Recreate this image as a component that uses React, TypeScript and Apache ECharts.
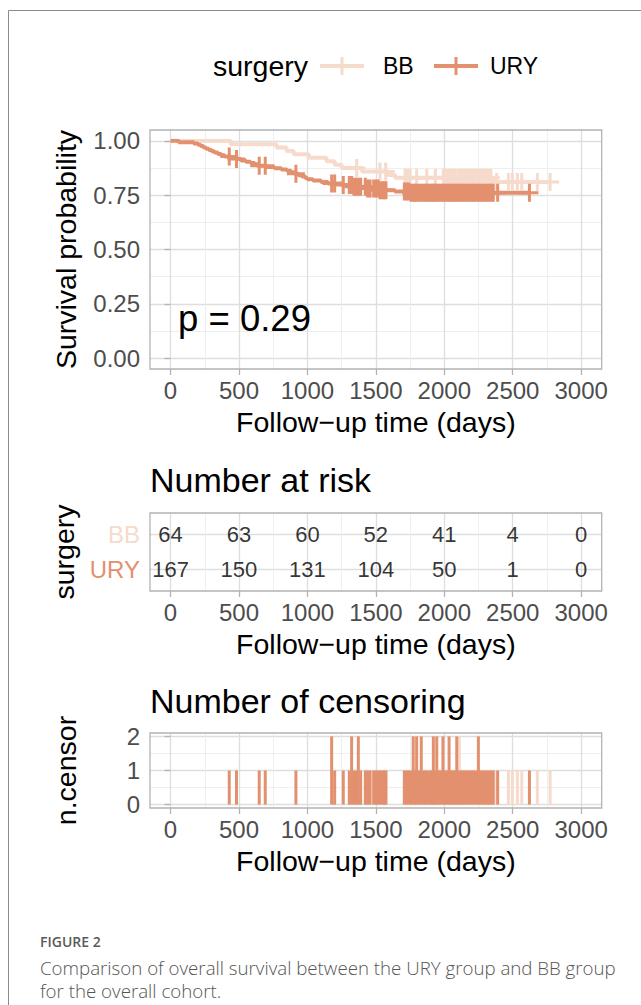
import { useEffect, useRef } from "react";
import * as echarts from "echarts";

// ---------- data ----------
const groups = ["BB", "URY"];
const timeTicks = [0, 500, 1000, 1500, 2000, 2500, 3000];
const riskBB = [64, 63, 60, 52, 41, 4, 0];
const riskURY = [167, 150, 131, 104, 50, 1, 0];
const pValueText = "p = 0.29";

// Kaplan-Meier steps (time in days, survival probability after the drop)
const uryStepTimes = [0, 60, 170, 200, 220, 240, 260, 280, 300, 320, 345, 370, 395, 440, 480, 515, 550, 585, 615, 640, 700, 760, 810, 850, 880, 905, 935, 960, 985, 1000, 1040, 1100, 1150, 1260, 1340, 1430, 1520, 1640, 1750];
const urySurv = [1.0, 0.994, 0.988, 0.982, 0.976, 0.97, 0.964, 0.958, 0.952, 0.946, 0.94, 0.934, 0.928, 0.922, 0.916, 0.91, 0.904, 0.898, 0.892, 0.886, 0.88, 0.874, 0.868, 0.862, 0.855, 0.849, 0.842, 0.836, 0.829, 0.823, 0.817, 0.811, 0.804, 0.797, 0.789, 0.781, 0.773, 0.767, 0.761];
const bbStepTimes = [0, 440, 775, 848, 900, 1010, 1140, 1200, 1250, 1400, 1590, 1640, 2360];
const bbSurv = [1.0, 0.984, 0.969, 0.953, 0.938, 0.922, 0.906, 0.89, 0.875, 0.859, 0.843, 0.83, 0.811];

// censoring times and counts
const uryCensorTimes = [429, 482, 648, 692, 916, 1177, 1199, 1262, 1306, 1323, 1340, 1356, 1372, 1389, 1423, 1440, 1458, 1484, 1500, 1516, 1530, 1548, 1562, 1574, 1708, 1724, 1740, 1756, 1773, 1786, 1798, 1814, 1832, 1848, 1864, 1880, 1896, 1910, 1920, 1932, 1945, 1960, 1975, 1990, 2004, 2020, 2035, 2050, 2064, 2078, 2091, 2106, 2120, 2135, 2150, 2166, 2182, 2198, 2214, 2230, 2249, 2264, 2280, 2296, 2312, 2328, 2344, 2358, 2390, 2622];
const uryCensorN = [1, 1, 1, 1, 1, 2, 1, 1, 1, 2, 1, 1, 2, 1, 1, 1, 1, 1, 1, 1, 1, 1, 1, 1, 1, 1, 1, 1, 2, 1, 2, 1, 2, 1, 1, 1, 1, 1, 2, 1, 2, 1, 1, 2, 1, 1, 2, 1, 1, 1, 2, 1, 1, 1, 1, 1, 1, 1, 1, 1, 2, 1, 1, 1, 1, 1, 1, 1, 1, 1];
const bbCensorTimes = [1360, 1530, 1572, 1713, 1730, 1750, 1798, 1872, 1935, 1993, 2010, 2028, 2042, 2058, 2072, 2088, 2110, 2126, 2140, 2155, 2172, 2188, 2204, 2220, 2236, 2252, 2270, 2288, 2305, 2322, 2340, 2383, 2468, 2497, 2534, 2566, 2680, 2773];
const bbCensorN = [1, 1, 1, 1, 1, 1, 1, 1, 1, 1, 1, 1, 1, 1, 1, 1, 2, 1, 1, 1, 1, 1, 1, 1, 1, 1, 1, 1, 1, 1, 1, 1, 1, 1, 1, 1, 1, 1];

// ---------- style ----------
const BB_COLOR = "#F6DACB";
const URY_COLOR = "#E3906F";
const FONT = "'Liberation Sans', Arial, Helvetica, sans-serif";
const CAPTION_FONT = "'Open Sans', sans-serif";
const X_TITLE = "Follow\u2212up time (days)";

const PL = 150;
const PR = 601.7;
const XMIN = -150;
const XMAX = 3150;
const PW = PR - PL;
const innerL = PL + ((0 - XMIN) / (XMAX - XMIN)) * PW;
const innerR = PL + ((3000 - XMIN) / (XMAX - XMIN)) * PW;

const panels = [
  { top: 130, bottom: 369, lo: -0.05, hi: 1.05, min: 0, max: 1 },
  { top: 513, bottom: 591, lo: 0.4, hi: 2.6, min: 1, max: 2 },
  { top: 733, bottom: 808, lo: -0.1, hi: 2.1, min: 0, max: 2 },
];

function survAt(times: number[], surv: number[], t: number) {
  let s = surv[0];
  for (let i = 0; i < times.length; i++) if (times[i] <= t) s = surv[i];
  return s;
}
function stepPoints(times: number[], surv: number[], end: number) {
  const pts = times.map((t, i) => [t, surv[i]]);
  pts.push([end, surv[surv.length - 1]]);
  return pts;
}

const PLUS = "path://M7.5,0h3v18h-3z M0,7.5h18v3h-18z";

function buildOption() {
  const grids: any[] = [];
  const xAxes: any[] = [];
  const yAxes: any[] = [];
  const tickLabel = { color: "#4D4D4D", fontSize: 24, fontFamily: FONT };
  const major = { show: true, lineStyle: { color: "#DEDEDE", width: 1.3 } };
  const minor = { show: true, lineStyle: { color: "#EBEBEB", width: 0.8 } };
  const tick = { show: true, length: 6, inside: false, lineStyle: { color: "#B3B3B3", width: 1.3 } };
  const titleStyle = { fontSize: 28.5, color: "#000", fontFamily: FONT };
  const yNames = ["Survival probability", "surgery", "n.censor"];

  panels.forEach((p, k) => {
    const h = p.bottom - p.top;
    const iTop = p.top + ((p.hi - p.max) / (p.hi - p.lo)) * h;
    const iBot = p.bottom - ((p.min - p.lo) / (p.hi - p.lo)) * h;
    // P grid: frame
    grids.push({ left: PL, top: p.top, width: PW, height: h, show: true, borderColor: "#B3B3B3", borderWidth: 1.3, backgroundColor: "transparent", outerBoundsMode: "none", z: 3 });
    xAxes.push({ type: "value", gridIndex: 3 * k, min: XMIN, max: XMAX, show: false });
    yAxes.push({ type: "value", gridIndex: 3 * k, min: 0, max: 1, show: false });
    // X grid: time ticks
    grids.push({ left: innerL, top: p.top, width: innerR - innerL, height: h, show: false, outerBoundsMode: "none" });
    xAxes.push({
      type: "value", gridIndex: 3 * k + 1, min: 0, max: 3000, interval: 500,
      axisLine: { show: false }, axisTick: tick,
      axisLabel: { ...tickLabel, margin: 9, formatter: (v: number) => String(v) },
      splitLine: major, minorTick: { show: false, splitNumber: 2 }, minorSplitLine: minor,
      name: X_TITLE, nameLocation: "middle", nameGap: 38, nameTextStyle: titleStyle,
    });
    yAxes.push({ type: "value", gridIndex: 3 * k + 1, min: 0, max: 1, show: false });
    // Y grid: data
    grids.push({ left: PL, top: iTop, width: PW, height: iBot - iTop, show: false, outerBoundsMode: "none" });
    xAxes.push({ type: "value", gridIndex: 3 * k + 2, min: XMIN, max: XMAX, show: false });
    const y: any = {
      type: "value", gridIndex: 3 * k + 2, min: p.min, max: p.max,
      axisLine: { show: false }, axisTick: tick,
      axisLabel: { ...tickLabel, margin: 10 },
      splitLine: major,
      name: yNames[k], nameLocation: "middle", nameGap: 70, nameRotate: 90, nameTextStyle: titleStyle,
    };
    if (k === 0) {
      y.interval = 0.25;
      y.axisLabel.formatter = (v: number) => v.toFixed(2);
      y.minorTick = { show: false, splitNumber: 2 };
      y.minorSplitLine = minor;
    } else if (k === 1) {
      y.interval = 1;
      y.axisLabel.formatter = (v: number) => (v === 2 ? "{bb|" + groups[0] + "}" : "{ury|" + groups[1] + "}");
      y.axisLabel.rich = {
        bb: { color: BB_COLOR, fontSize: 24, fontFamily: FONT },
        ury: { color: URY_COLOR, fontSize: 24, fontFamily: FONT },
      };
    } else {
      y.interval = 1;
      y.axisLabel.formatter = (v: number) => String(v);
      y.minorTick = { show: false, splitNumber: 2 };
      y.minorSplitLine = minor;
    }
    yAxes.push(y);
  });

  const bbEnd = bbCensorTimes[bbCensorTimes.length - 1];
  const uryEnd = uryCensorTimes[uryCensorTimes.length - 1];

  const lineSeries = (name: string, times: number[], surv: number[], end: number, color: string) => ({
    type: "line", name, xAxisIndex: 2, yAxisIndex: 2, step: "end", showSymbol: false, symbol: "none",
    data: stepPoints(times, surv, end), lineStyle: { color, width: 4 }, itemStyle: { color }, z: 2,
  });
  const markSeries = (name: string, cts: number[], times: number[], surv: number[], color: string) => ({
    type: "scatter", name, xAxisIndex: 2, yAxisIndex: 2, symbol: PLUS, symbolSize: 18,
    data: cts.map((t) => [t, survAt(times, surv, t)]), itemStyle: { color, opacity: 1 }, z: 3,
  });
  const riskSeries = (vals: number[], row: number) => ({
    type: "scatter", xAxisIndex: 5, yAxisIndex: 5, symbolSize: 1,
    itemStyle: { color: "rgba(0,0,0,0)" },
    data: timeTicks.map((t, i) => [t, row, vals[i]]),
    label: { show: true, position: "inside", formatter: (p: any) => String(p.value[2]), color: "#000", fontSize: 22, fontFamily: FONT },
  });
  const barSeries = (cts: number[], ns: number[], color: string) => ({
    type: "custom", xAxisIndex: 8, yAxisIndex: 8,
    data: cts.map((t, i) => [t, ns[i]]),
    encode: { x: 0, y: 1 },
    renderItem: (_params: any, api: any) => {
      const t = api.value(0);
      const n = api.value(1);
      const top = api.coord([t, n]);
      const base = api.coord([t, 0]);
      return { type: "rect", shape: { x: top[0] - 1.5, y: top[1], width: 3, height: base[1] - top[1] }, style: { fill: color } };
    },
  });

  const text = (t: string, x: number, y: number, size: number, extra: any = {}) => ({
    type: "text", x, y, z: 100, style: { text: t, fontSize: size, fontFamily: FONT, fill: "#000", align: "left", verticalAlign: "middle", ...extra },
  });

  const legendY = 66;
  const graphic: any[] = [
    { type: "polyline", z: 100, shape: { points: [[641, 10.5], [8.5, 10.5], [8.5, 1005]] }, style: { stroke: "#8C8C8C", lineWidth: 1, fill: null } },
    text("surgery", 213, legendY, 28.5),
    { type: "line", z: 100, shape: { x1: 320, y1: legendY, x2: 364, y2: legendY }, style: { stroke: BB_COLOR, lineWidth: 4 } },
    { type: "line", z: 100, shape: { x1: 342, y1: legendY - 9, x2: 342, y2: legendY + 9 }, style: { stroke: BB_COLOR, lineWidth: 3 } },
    text(groups[0], 383, legendY, 23),
    { type: "line", z: 100, shape: { x1: 434, y1: legendY, x2: 478, y2: legendY }, style: { stroke: URY_COLOR, lineWidth: 4 } },
    { type: "line", z: 100, shape: { x1: 456, y1: legendY - 9, x2: 456, y2: legendY + 9 }, style: { stroke: URY_COLOR, lineWidth: 3 } },
    text(groups[1], 490, legendY, 23),
    text(pValueText, 178, 318, 36.5),
    text("Number at risk", 150, 480, 34),
    text("Number of censoring", 150, 701, 34),
    text("FIGURE 2", 40, 941, 14, { fontFamily: CAPTION_FONT, fontWeight: 600, fill: "#5A5A5A" }),
    text("Comparison of overall survival between the URY group and BB group", 40, 967, 18.7, { fontFamily: CAPTION_FONT, fontWeight: 300, fill: "#555" }),
    text("for the overall cohort.", 40, 990, 18.7, { fontFamily: CAPTION_FONT, fontWeight: 300, fill: "#555" }),
  ];

  return {
    animation: false,
    backgroundColor: "#fff",
    textStyle: { fontFamily: FONT },
    grid: grids,
    xAxis: xAxes,
    yAxis: yAxes,
    graphic,
    series: [
      lineSeries("BB", bbStepTimes, bbSurv, bbEnd, BB_COLOR),
      lineSeries("URY", uryStepTimes, urySurv, uryEnd, URY_COLOR),
      markSeries("BB censor", bbCensorTimes, bbStepTimes, bbSurv, BB_COLOR),
      markSeries("URY censor", uryCensorTimes, uryStepTimes, urySurv, URY_COLOR),
      riskSeries(riskBB, 2),
      riskSeries(riskURY, 1),
      barSeries(bbCensorTimes, bbCensorN, BB_COLOR),
      barSeries(uryCensorTimes, uryCensorN, URY_COLOR),
    ],
  };
}

export default function App() {
  const ref = useRef<HTMLDivElement>(null);
  useEffect(() => {
    document.body.style.margin = "0";
    const chart = echarts.init(ref.current as HTMLDivElement, null, { renderer: "svg" });
    chart.setOption(buildOption() as any);
    return () => chart.dispose();
  }, []);
  return <div ref={ref} style={{ width: 641, height: 1005 }} />;
}
